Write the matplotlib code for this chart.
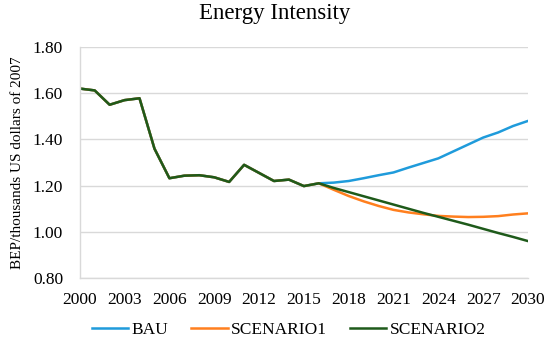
import matplotlib.pyplot as plt

# Historical values (2000-2016), shared by all scenarios
hist_years = list(range(2000, 2017))
hist_values = [1.62, 1.612, 1.55, 1.57, 1.578, 1.36, 1.232, 1.243, 1.245, 1.236, 1.216,
               1.29, 1.255, 1.22, 1.226, 1.198, 1.21]

# Projections (2017-2030)
proj_years = list(range(2017, 2031))
bau = [1.213, 1.22, 1.232, 1.245, 1.257, 1.278, 1.298, 1.318, 1.348, 1.378, 1.408, 1.43, 1.458, 1.48]
scenario1 = [1.182, 1.155, 1.132, 1.112, 1.095, 1.084, 1.076, 1.069, 1.066, 1.064, 1.065, 1.068, 1.075, 1.08]
scenario2 = [1.19, 1.172, 1.154, 1.136, 1.118, 1.1, 1.082, 1.065, 1.048, 1.031, 1.013, 0.995, 0.978, 0.96]

years = hist_years + proj_years
xticks = list(range(2000, 2031, 3)) + [2030]
xticks = sorted(set(xticks))

plt.rcParams['font.family'] = ['Liberation Serif', 'DejaVu Serif']

fig = plt.figure(figsize=(5.5, 3.48), dpi=100)
ax = fig.add_axes([0.145, 0.201, 0.815, 0.664])

ax.plot(years, hist_values + bau, color='#1f9bdb', lw=1.8, label='BAU')
ax.plot(years, hist_values + scenario1, color='#ff7f1e', lw=1.8, label='SCENARIO1')
ax.plot(years, hist_values + scenario2, color='#1e5a1a', lw=1.8, label='SCENARIO2')

ax.set_xlim(2000, 2030)
ax.set_ylim(0.80, 1.80)
ax.set_yticks([0.8, 1.0, 1.2, 1.4, 1.6, 1.8])
ax.set_yticklabels(['%.2f' % v for v in [0.8, 1.0, 1.2, 1.4, 1.6, 1.8]])
ax.set_xticks(xticks)
ax.tick_params(length=0, labelsize=12.5)
ax.tick_params(axis='x', pad=10)
ax.tick_params(axis='y', pad=12)
ax.grid(axis='y', color='#d9d9d9', lw=1)
ax.set_axisbelow(True)
for s in ['top', 'right']:
    ax.spines[s].set_visible(False)
for s in ['left', 'bottom']:
    ax.spines[s].set_color('#d9d9d9')
    ax.spines[s].set_linewidth(1)

ax.set_ylabel('BEP/thousands US dollars of 2007', fontsize=11, labelpad=6)
fig.suptitle('Energy Intensity', fontsize=16.5, y=0.99)

fig.legend(loc='lower center', ncol=3, frameon=False, fontsize=12.5,
           bbox_to_anchor=(0.525, -0.015), handlelength=2.1, columnspacing=1.3, handletextpad=0.2)

fig.savefig('out.png', dpi=100)
